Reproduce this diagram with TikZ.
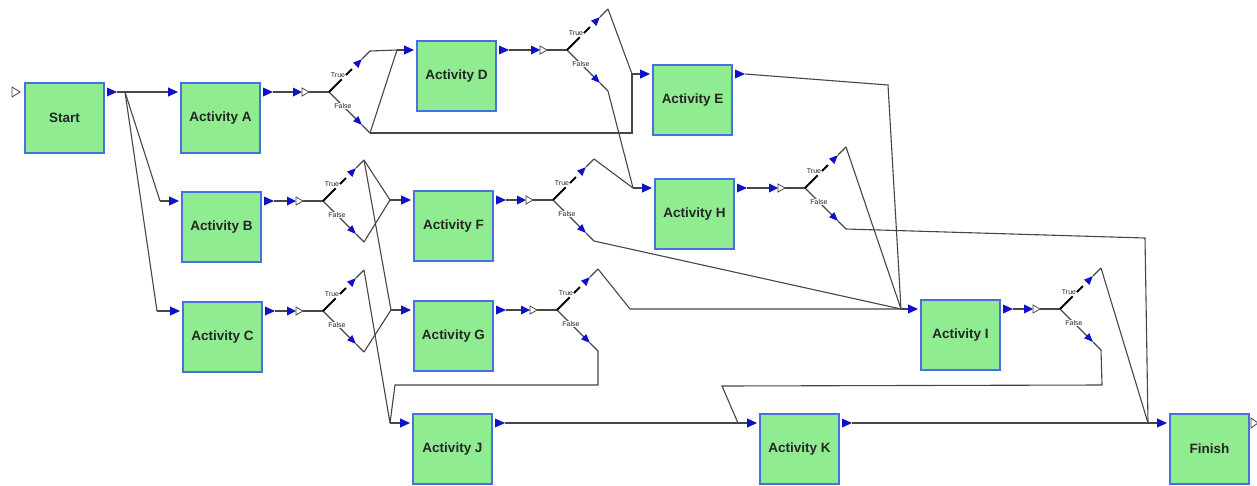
\documentclass[tikz,border=0pt]{standalone}
\usepackage{fontspec}
\setmainfont{Liberation Sans}
\usetikzlibrary{arrows.meta,calc}

\definecolor{boxfill}{RGB}{144,236,144}
\definecolor{boxline}{RGB}{72,112,224}
\definecolor{tipblue}{RGB}{16,16,200}
\definecolor{wirecol}{RGB}{70,70,70}

\tikzset{
  activity/.style={draw=boxline, fill=boxfill, line width=1.4pt,
    minimum width=79pt, minimum height=70pt, inner sep=0pt, outer sep=0pt,
    anchor=north west, font=\fontsize{13.5}{15}\selectfont\bfseries, text=black!85},
  wire/.style={draw=wirecol, line width=1.1pt},
  feed/.style={wire, -{Triangle[length=10pt,width=9pt,color=tipblue]}},
  truebranch/.style={draw=black, line width=2pt,
    dash pattern=on 18pt off 6pt on 8.5pt off 30pt,
    -{Triangle[length=9pt,width=7pt,color=tipblue]}},
  falsebranch/.style={wire, -{Triangle[length=9pt,width=7pt,color=tipblue]}},
  branchlabel/.style={font=\fontsize{7}{8}\selectfont, inner sep=0.6pt, text=black!85},
  startmark/.style={draw=wirecol, fill=white, line width=0.8pt},
}

% input/output ports of an activity box, with its blue output triangle
\newcommand\ports[1]{%
  \coordinate (#1-in) at ($(#1.north west)+(-3,9)$);
  \coordinate (#1-out) at ($(#1.north east)+(13,9)$);
  \fill[tipblue] ($(#1.north east)+(3,4.5)$) -- (#1-out) -- ($(#1.north east)+(3,13.5)$) -- cycle;
}

% decision gate: name, x, y of the branching point
\newcommand\gate[3]{%
  \coordinate (#1) at (#2,#3);
  \coordinate (#1-in) at (#2-36,#3);
  \coordinate (#1-t) at (#2+41,#3-41);
  \coordinate (#1-f) at (#2+41,#3+41);
  \fill[tipblue] (#2-36,#3-4.5) -- (#2-27,#3) -- (#2-36,#3+4.5) -- cycle;
  \draw[startmark] (#2-27,#3-4) -- (#2-20,#3) -- (#2-27,#3+4) -- cycle;
  \draw[wire] (#2-20,#3) -- (#1);
  \draw[wire] (#2+33,#3-33) -- (#1-t);
  \draw[wire] (#2+33,#3+33) -- (#1-f);
  \draw[falsebranch] (#1) -- (#2+33,#3+33);
  \draw[truebranch] (#1) -- (#2+33,#3-33);
  \node[branchlabel, fill=white] (#1-fl) at (#2+14,#3+14) {False};
  \node[branchlabel] (#1-tl) at (#2+9,#3-17) {True};
}

\begin{document}
\begin{tikzpicture}[x=1pt,y=-1pt]
  \useasboundingbox[fill=white] (0,0) rectangle (1257,485);

  % activity boxes
  \node[activity] (Start)  at (25,83)   {Start};
  \node[activity] (A)      at (181,83)  {Activity A};
  \node[activity] (B)      at (182,192) {Activity B};
  \node[activity] (C)      at (183,302) {Activity C};
  \node[activity] (D)      at (417,41)  {Activity D};
  \node[activity] (E)      at (653,65)  {Activity E};
  \node[activity] (F)      at (414,191) {Activity F};
  \node[activity] (G)      at (414,301) {Activity G};
  \node[activity] (H)      at (655,179) {Activity H};
  \node[activity] (I)      at (921,300) {Activity I};
  \node[activity] (J)      at (413,414) {Activity J};
  \node[activity] (K)      at (760,414) {Activity K};
  \node[activity] (Finish) at (1170,414) {Finish};

  \foreach \b in {Start,A,B,C,D,E,F,G,H,I,J,K}{\ports{\b}}
  \coordinate (Finish-in) at ($(Finish.north west)+(-3,9)$);

  % entry and exit markers
  \draw[startmark] (12,87) -- (20,92) -- (12,97) -- cycle;
  \draw[startmark] (1251,418) -- (1258,423) -- (1251,428) -- cycle;

  % decision gates
  \gate{g1}{329}{92}
  \gate{g2}{567}{50}
  \gate{g3}{323}{201}
  \gate{g4}{323}{311}
  \gate{g5}{553}{200}
  \gate{g6}{557}{310}
  \gate{g7}{805}{188}
  \gate{g8}{1060}{309}

  % junctions and bends
  \coordinate (jS) at (125,92);
  \coordinate (jB) at (160,201);
  \coordinate (jC) at (157,311);
  \coordinate (jD) at (397,50);
  \coordinate (jE) at (632,74);
  \coordinate (jF) at (390,200);
  \coordinate (jG) at (391,310);
  \coordinate (jH) at (633,188);
  \coordinate (jI) at (901,309);
  \coordinate (jJ) at (390,423);
  \coordinate (jK) at (738,423);
  \coordinate (jFin) at (1148,423);
  \coordinate (b1) at (632,133);
  \coordinate (b2) at (630,309);
  \coordinate (b3) at (598,385);
  \coordinate (b4) at (395,385);
  \coordinate (b5) at (1145,238);
  \coordinate (b6) at (888,85);
  \coordinate (b7) at (1102,385);
  \coordinate (b8) at (722,386);

  % Start fans out
  \draw[wire] (Start-out) -- (jS);
  \draw[feed] (jS) -- (A-in);
  \draw[wire] (jS) -- (jB);
  \draw[feed] (jB) -- (B-in);
  \draw[wire] (jS) -- (jC);
  \draw[feed] (jC) -- (C-in);

  % boxes into their gates
  \draw[wire] (A-out) -- (g1-in);
  \draw[wire] (B-out) -- (g3-in);
  \draw[wire] (C-out) -- (g4-in);
  \draw[wire] (D-out) -- (g2-in);
  \draw[wire] (F-out) -- (g5-in);
  \draw[wire] (G-out) -- (g6-in);
  \draw[wire] (H-out) -- (g7-in);
  \draw[wire] (I-out) -- (g8-in);

  % gate A
  \draw[wire] (g1-t) -- (jD);
  \draw[wire] (g1-f) -- (jD);
  \draw[feed] (jD) -- (D-in);
  \draw[wire] (g1-f) -- (b1) -- (jE);
  % gate D
  \draw[wire] (g2-t) -- (jE);
  \draw[feed] (jE) -- (E-in);
  \draw[wire] (g2-f) -- (jH);
  % gate B
  \draw[wire] (g3-t) -- (jF);
  \draw[wire] (g3-f) -- (jF);
  \draw[feed] (jF) -- (F-in);
  \draw[wire] (g3-t) -- (jG);
  % gate C
  \draw[wire] (g4-t) -- (jJ);
  \draw[wire] (g4-f) -- (jG);
  \draw[feed] (jG) -- (G-in);
  % gate F
  \draw[wire] (g5-t) -- (jH);
  \draw[feed] (jH) -- (H-in);
  \draw[wire] (g5-f) -- (jI);
  % gate G
  \draw[wire] (g6-t) -- (b2) -- (jI);
  \draw[wire] (g6-f) -- (b3) -- (b4) -- (jJ);
  \draw[feed] (jJ) -- (J-in);
  % gate H
  \draw[wire] (g7-t) -- (jI);
  \draw[wire] (g7-f) -- (b5) -- (jFin);
  % Activity E
  \draw[wire] (E-out) -- (b6) -- (jI);
  \draw[feed] (jI) -- (I-in);
  % gate I
  \draw[wire] (g8-t) -- (jFin);
  \draw[wire] (g8-f) -- (b7) -- (b8) -- (jK);
  % J, K onward
  \draw[wire] (J-out) -- (jK);
  \draw[feed] (jK) -- (K-in);
  \draw[wire] (K-out) -- (jFin);
  \draw[feed] (jFin) -- (Finish-in);
\end{tikzpicture}
\end{document}
